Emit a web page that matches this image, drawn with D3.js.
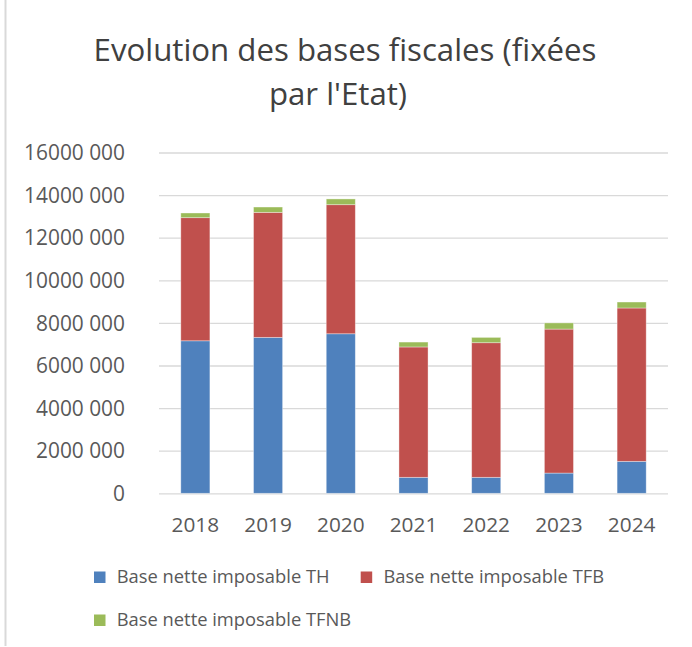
<!DOCTYPE html>
<html><head><meta charset="utf-8">
<script src="https://cdn.jsdelivr.net/npm/d3@7"></script>
<style>body{margin:0;background:#fff}svg{display:block}</style>
</head><body>
<script>
const years = ["2018","2019","2020","2021","2022","2023","2024"];
const baseTH   = [7160000, 7320000, 7490000, 750000, 750000, 950000, 1500000];
const baseTFB  = [5780000, 5870000, 6060000, 6120000, 6320000, 6760000, 7200000];
const baseTFNB = [220000, 250000, 270000, 230000, 250000, 290000, 280000];
const seriesNames = ["Base nette imposable TH","Base nette imposable TFB","Base nette imposable TFNB"];
const colors = ["#4F81BD","#C0504D","#9BBB59"];
const yTicks = [0,2000000,4000000,6000000,8000000,10000000,12000000,14000000,16000000];
const titleLines = ["Evolution des bases fiscales (fixées","par l'Etat)"];

const W=692,H=647;
const font="'Open Sans', Lato, sans-serif";
const svg=d3.select("body").append("svg").attr("width",W).attr("height",H);
svg.append("rect").attr("width",W).attr("height",H).attr("fill","#fff");
svg.append("line").attr("x1",5.5).attr("x2",5.5).attr("y1",0).attr("y2",646)
  .attr("stroke","#d9d9d9").attr("stroke-width",2);

// font-size that makes a sample string reach a target width
function fitSize(sample, target){
  const t=svg.append("text").attr("font-family",font).attr("font-size",100).text(sample);
  const w=t.node().getComputedTextLength(); t.remove();
  return 100*target/w;
}
const titleSize=fitSize(titleLines[0],503);
const ySize=fitSize("16000 000",101);
const xSize=fitSize("2018",47.6);
const legSize=fitSize(seriesNames[0],213);

const m={left:159,right:668,top:152.5,bottom:493.3};
const x=d3.scaleBand().domain(years).range([m.left,m.right]).paddingInner(0.6).paddingOuter(0.3);
const y=d3.scaleLinear().domain([0,16000000]).range([m.bottom,m.top]);

// title
const titleX=[345,338];
svg.append("g").selectAll("text").data(titleLines).join("text")
  .attr("x",(d,i)=>titleX[i]).attr("y",(d,i)=>60.7+i*44).attr("text-anchor","middle")
  .attr("font-family",font).attr("font-size",titleSize).attr("fill","#404040").text(d=>d);

// grid + y labels
const yAxis=d3.axisLeft(y).tickValues(yTicks).tickSize(-(m.right-m.left)).tickPadding(34)
  .tickFormat(d=>{ if(d===0) return "0"; const s=String(d); return s.slice(0,s.length-3)+" "+s.slice(-3); });
const ga=svg.append("g").attr("transform",`translate(${m.left},0)`).call(yAxis);
ga.select(".domain").remove();
ga.selectAll(".tick line").attr("stroke","#d9d9d9").attr("stroke-width",1.3);
ga.selectAll(".tick text").attr("font-family",font).attr("font-size",ySize).attr("fill","#595959").attr("dy","0.34em");

// stacks
const rows=years.map((yr,i)=>({year:yr,TH:baseTH[i],TFB:baseTFB[i],TFNB:baseTFNB[i]}));
const stack=d3.stack().keys(["TH","TFB","TFNB"])(rows);
svg.append("g").selectAll("g").data(stack).join("g").attr("fill",(d,i)=>colors[i])
  .selectAll("rect").data(d=>d).join("rect")
  .attr("x",d=>x(d.data.year)).attr("width",x.bandwidth())
  .attr("y",d=>y(d[1])).attr("height",d=>y(d[0])-y(d[1]))
  .attr("stroke","rgba(255,255,255,0.45)").attr("stroke-width",0.8);

// x labels
const xAxis=d3.axisBottom(x).tickSize(0).tickPadding(0);
const gx=svg.append("g").attr("transform",`translate(0,${m.bottom})`).call(xAxis);
gx.select(".domain").remove();
gx.selectAll(".tick text").attr("font-family",font).attr("font-size",xSize).attr("fill","#595959")
  .attr("dy",null).attr("y",38.4);

// legend
const legPos=[[94,583],[360.7,583],[94,626]];
const lg=svg.append("g").selectAll("g").data(seriesNames).join("g")
  .attr("transform",(d,i)=>`translate(${legPos[i][0]},${legPos[i][1]})`);
lg.append("rect").attr("x",0).attr("y",-11.5).attr("width",11.5).attr("height",11.5).attr("fill",(d,i)=>colors[i]);
lg.append("text").attr("x",22.7).attr("y",0).attr("font-family",font).attr("font-size",legSize).attr("fill","#595959").text(d=>d);
</script>
</body></html>
